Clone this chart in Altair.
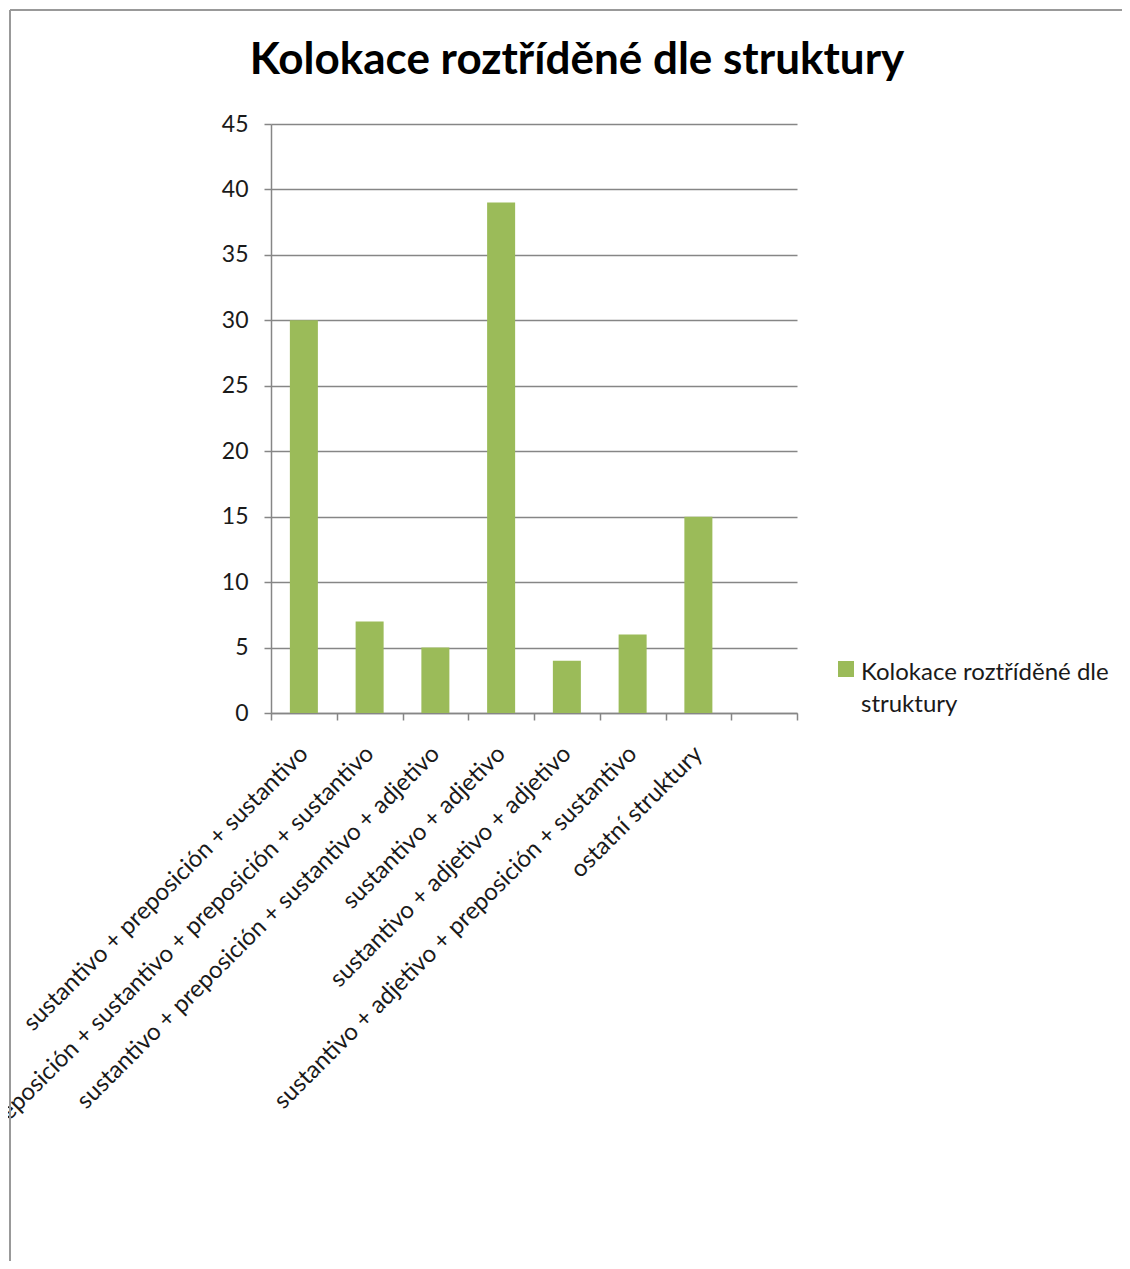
import altair as alt
import pandas as pd

categories = [
    "sustantivo + preposición + sustantivo",
    "preposición + sustantivo + preposición + sustantivo",
    "sustantivo + preposición + sustantivo + adjetivo",
    "sustantivo + adjetivo",
    "sustantivo + adjetivo + adjetivo",
    "sustantivo + adjetivo + preposición + sustantivo",
    "ostatní struktury",
]
values = [30, 7, 5, 39, 4, 6, 15]
empty_slot = [" "]
series_name = "Kolokace roztříděné dle struktury"
legend_lines = ["Kolokace roztříděné dle", "struktury"]
y_ticks = [0, 5, 10, 15, 20, 25, 30, 35, 40, 45]

FONT = "Lato"
GREEN = "#9BBB59"
GRAY = "#868686"
TEXT = "#1a1a1a"

df = pd.DataFrame({"cat": categories, "val": values, "series": [series_name] * len(categories)})

bars = alt.Chart(df).mark_bar(color=GREEN, width=alt.RelativeBandSize(0.426)).encode(
    x=alt.X(
        "cat:N",
        sort=None,
        scale=alt.Scale(domain=categories + empty_slot, paddingInner=0, paddingOuter=0),
        axis=alt.Axis(
            title=None,
            labelAngle=-45,
            labelAlign="right",
            labelBaseline="middle",
            labelFont=FONT,
            labelFontSize=24,
            labelColor=TEXT,
            labelPadding=30,
            labelLimit=1000,
            labelOverlap=False,
            tickBand="extent",
            tickSize=7,
            tickColor=GRAY,
            tickWidth=1.5,
            domainColor=GRAY,
            domainWidth=1.5,
            grid=False,
        ),
    ),
    y=alt.Y(
        "val:Q",
        scale=alt.Scale(domain=[0, 45], nice=False),
        axis=alt.Axis(
            title=None,
            values=y_ticks,
            labelFont=FONT,
            labelFontSize=23,
            labelColor=TEXT,
            labelPadding=16,
            tickSize=7,
            tickColor=GRAY,
            tickWidth=1.5,
            domainColor=GRAY,
            domainWidth=1.5,
            grid=True,
            gridColor=GRAY,
            gridWidth=1.5,
        ),
    ),
    color=alt.Color(
        "series:N",
        scale=alt.Scale(range=[GREEN]),
        legend=alt.Legend(
            title=legend_lines,
            titleOrient="right",
            titleFont=FONT,
            titleFontSize=24,
            titleFontWeight="normal",
            titleColor=TEXT,
            titleLineHeight=32,
            titleBaseline="top",
            titleAnchor="start",
            titlePadding=7,
            titleLimit=1000,
            orient="none",
            legendX=567,
            legendY=537,
            symbolType="square",
            symbolSize=256,
            symbolStrokeWidth=0,
            labelExpr="''",
            labelOffset=0,
            padding=0,
        ),
    ),
)

frame_df = pd.DataFrame({"a": [0]})
left_border = alt.Chart(frame_df).mark_rule(color="#999999", strokeWidth=2).encode(
    x=alt.value(-261), y=alt.value(-114), y2=alt.value(1150)
)
top_border = alt.Chart(frame_df).mark_rule(color="#999999", strokeWidth=2).encode(
    x=alt.value(-261), x2=alt.value(860), y=alt.value(-114)
)

chart = alt.layer(bars, left_border, top_border).properties(
    width=526,
    height=589,
    autosize=alt.AutoSizeParams(type="none"),
    padding={"left": 263, "top": 116, "right": 325, "bottom": 548},
    title=alt.TitleParams(
        series_name,
        font=FONT,
        fontSize=44,
        fontWeight="bold",
        color="#000000",
        anchor="middle",
        frame="group",
        baseline="alphabetic",
        dx=43,
        dy=109,
        offset=0,
    ),
).configure_view(stroke=None)

chart.save("out.html", embed_options={"renderer": "svg", "actions": False})
